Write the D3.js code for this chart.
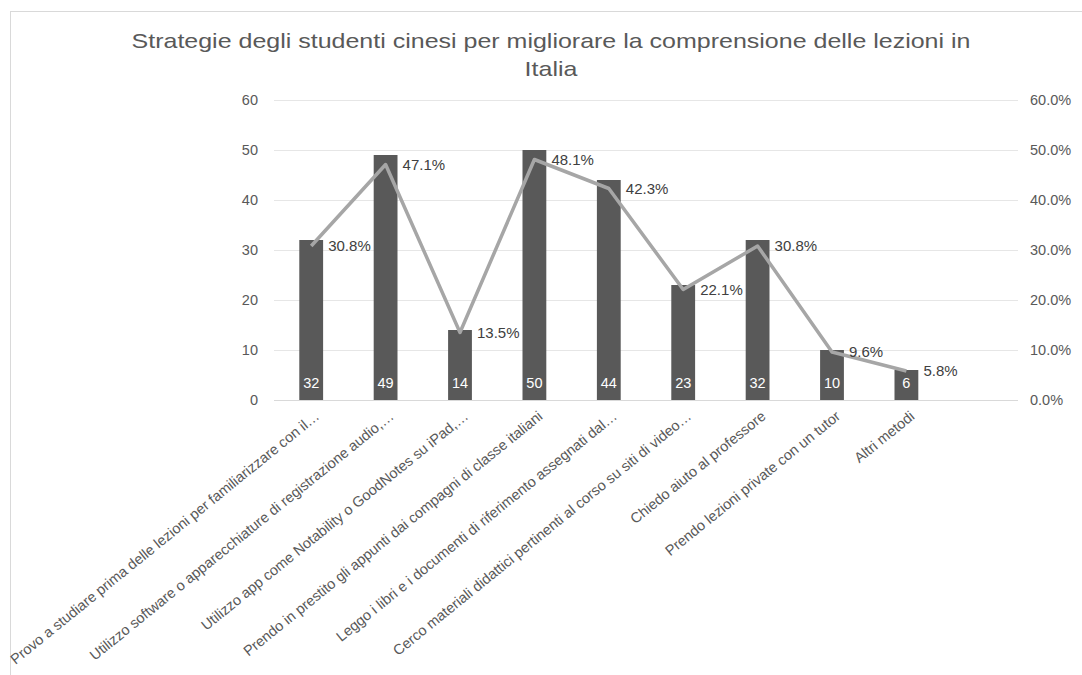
<!DOCTYPE html>
<html><head><meta charset="utf-8">
<script src="https://cdn.jsdelivr.net/npm/d3@7"></script>
<style>body{margin:0;background:#fff}svg{display:block}</style>
</head><body><svg id="c" width="1082" height="675"></svg>
<script>
const title = ["Strategie degli studenti cinesi per migliorare la comprensione delle lezioni in", "Italia"];
const categories = [
  "Provo a studiare prima delle lezioni per familiarizzare con il…",
  "Utilizzo software o apparecchiature di registrazione audio,…",
  "Utilizzo app come Notability o GoodNotes su iPad,…",
  "Prendo in prestito gli appunti dai compagni di classe italiani",
  "Leggo i libri e i documenti di riferimento assegnati dal…",
  "Cerco materiali didattici pertinenti al corso su siti di video…",
  "Chiedo aiuto al professore",
  "Prendo lezioni private con un tutor",
  "Altri metodi"
];
const counts = [32, 49, 14, 50, 44, 23, 32, 10, 6];
const percents = [30.8, 47.1, 13.5, 48.1, 42.3, 22.1, 30.8, 9.6, 5.8];
const leftTicks = [0, 10, 20, 30, 40, 50, 60];
const rightTicks = [0, 10, 20, 30, 40, 50, 60];

const svg = d3.select("#c");
const font = "'Liberation Sans', Arial, sans-serif";
const plotL = 274, plotR = 1018, plotT = 100, plotB = 400;
const slot = (plotR - plotL) / 10;

svg.append("rect").attr("x", 10.5).attr("y", 11.5).attr("width", 1100).attr("height", 700)
  .attr("fill", "#fff").attr("stroke", "#d9d9d9");

const y = d3.scaleLinear().domain([0, 60]).range([plotB, plotT]);
const y2 = d3.scaleLinear().domain([0, 0.6]).range([plotB, plotT]);
const x = d3.scaleBand().domain(categories).range([plotL, plotL + slot * categories.length])
  .paddingInner(0.68).paddingOuter(0.34);

// title (horizontally stretched like the reference)
svg.append("g").attr("transform", "translate(551,0) scale(1.19,1)")
  .append("text").attr("font-family", font).attr("font-size", 21)
  .attr("fill", "#595959").attr("text-anchor", "middle")
  .selectAll("tspan").data(title).join("tspan")
  .attr("x", 0).attr("y", (d, i) => 48 + i * 28).text(d => d);

// gridlines
svg.append("g").selectAll("line").data(leftTicks).join("line")
  .attr("x1", plotL).attr("x2", plotR)
  .attr("y1", d => Math.round(y(d)) + 0.5).attr("y2", d => Math.round(y(d)) + 0.5)
  .attr("stroke", d => d === 0 ? "#d9d9d9" : "#e6e6e6").attr("stroke-width", 1.2);

// left axis
const ax = svg.append("g").attr("transform", `translate(${plotL - 16},0)`)
  .call(d3.axisLeft(y).tickValues(leftTicks).tickSize(0).tickPadding(0));
ax.select(".domain").remove();
ax.selectAll("text").attr("font-family", font).attr("font-size", 14.5).attr("fill", "#595959");

// right axis
const ax2 = svg.append("g").attr("transform", `translate(${plotR + 12},0)`)
  .call(d3.axisRight(y2).tickValues(rightTicks.map(d => d / 100)).tickFormat(d3.format(".1%")).tickSize(0).tickPadding(0));
ax2.select(".domain").remove();
ax2.selectAll("text").attr("font-family", font).attr("font-size", 14.5).attr("fill", "#595959");

// bars
svg.append("g").selectAll("rect").data(counts).join("rect")
  .attr("x", (d, i) => x(categories[i])).attr("width", x.bandwidth())
  .attr("y", d => y(d)).attr("height", d => plotB - y(d)).attr("fill", "#595959");

// bar labels
svg.append("g").selectAll("text").data(counts).join("text")
  .attr("x", (d, i) => x(categories[i]) + x.bandwidth() / 2).attr("y", 388)
  .attr("text-anchor", "middle").attr("font-family", font).attr("font-size", 14.5)
  .attr("fill", "#fff").text(d => d);

// line
const cx = i => x(categories[i]) + x.bandwidth() / 2;
svg.append("path").datum(percents)
  .attr("d", d3.line().x((d, i) => cx(i)).y(d => y2(d / 100)))
  .attr("fill", "none").attr("stroke", "#a6a6a6").attr("stroke-width", 3.5).attr("stroke-linejoin", "round");

// percent labels
svg.append("g").selectAll("text").data(percents).join("text")
  .attr("x", (d, i) => cx(i) + 17).attr("y", d => y2(d / 100) + 5)
  .attr("font-family", font).attr("font-size", 15).attr("fill", "#404040")
  .text(d => d.toFixed(1) + "%");

// x labels
svg.append("g").selectAll("text").data(categories).join("text")
  .attr("transform", (d, i) => `translate(${cx(i) + 6},${414}) rotate(-39)`)
  .attr("text-anchor", "end").attr("dy", "0.35em")
  .attr("font-family", font).attr("font-size", 14.5).attr("fill", "#595959")
  .text(d => d);
</script></body></html>
